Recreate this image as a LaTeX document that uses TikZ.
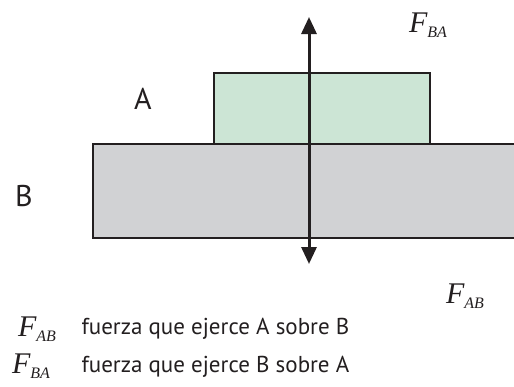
\documentclass[tikz,border=0pt]{standalone}
\usepackage{fontspec}
\setmainfont{Liberation Serif}
\setsansfont{PT Sans}
\usepackage{tikz}
\usetikzlibrary{arrows.meta,positioning}
\usepackage{xcolor}

\definecolor{greenA}{RGB}{204,229,213}
\definecolor{grayB}{RGB}{209,210,212}
\definecolor{edge}{RGB}{35,31,32}

\newcommand{\force}[1]{{\fontsize{30}{30}\selectfont\itshape F}{\fontsize{16}{16}\selectfont\itshape\raisebox{-5pt}{#1}}}

\tikzset{
  block/.style={draw=edge, line width=2pt, inner sep=0pt},
  letter/.style={font=\sffamily\fontsize{30}{30}\selectfont, text=edge},
  legend/.style={font=\sffamily\fontsize{23}{23}\selectfont, text=edge, anchor=base west},
  forcelabel/.style={text=edge, inner sep=0pt}
}

\begin{document}
\begin{tikzpicture}[x=1pt, y=-1pt, >={Triangle[length=17pt,width=15pt]}]
  \useasboundingbox (0,0) rectangle (514,386);
  \clip (0,0) rectangle (514,386);

  % Define nodes
  \node[block, fill=grayB, minimum width=427pt, minimum height=94pt] (B) at (306.5,191) {};
  \node[block, fill=greenA, minimum width=216pt, minimum height=71pt] (A) at (322,108.5) {};
  \node[letter] (lA) at (143,99) {A};
  \node[letter] (lB) at (24,196) {B};
  \coordinate (mid) at (309,144);
  \coordinate (top) at (309,17);
  \coordinate (bottom) at (309,264);

  % Draw arrows
  \draw[->, line width=3pt, draw=edge] (mid) -- (top);
  \draw[->, line width=3pt, draw=edge] (mid) -- (bottom);

  % Force labels
  \node[forcelabel] (FBA) at (428,25) {\force{BA}};
  \node[forcelabel] (FAB) at (465,296) {\force{AB}};

  % Legend
  \node[forcelabel] (kAB) at (37,329) {\force{AB}};
  \node[forcelabel] (kBA) at (31,366) {\force{BA}};
  \node[legend] (tAB) at (78,334) {fuerza que ejerce A sobre B};
  \node[legend] (tBA) at (78,372) {fuerza que ejerce B sobre A};
\end{tikzpicture}
\end{document}
